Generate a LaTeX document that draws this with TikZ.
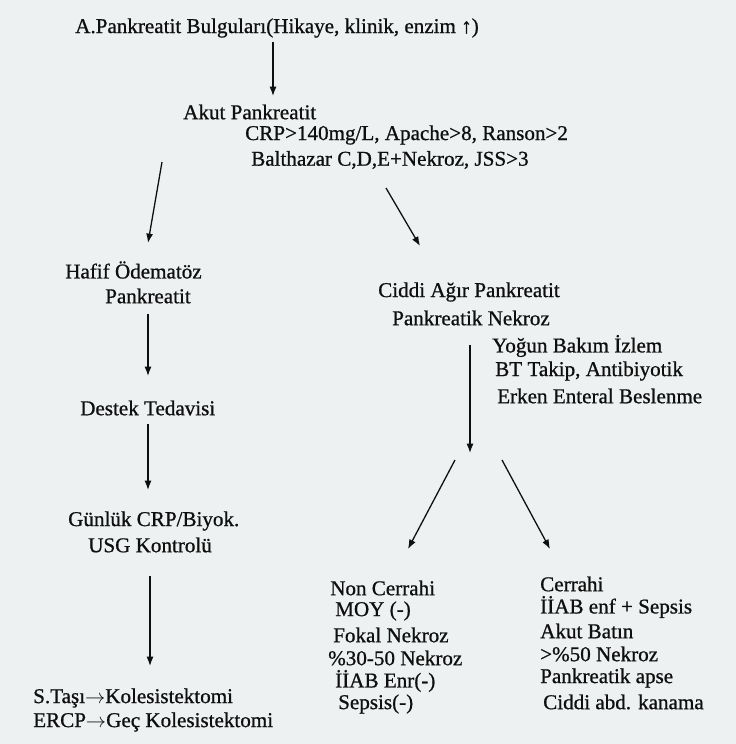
\documentclass[tikz,border=0pt]{standalone}
\usepackage{fontspec}
\setmainfont{Liberation Serif}[FakeBold=0.8]
\usetikzlibrary{arrows.meta}
\tikzset{>={Latex[length=8pt,width=6pt]}}
\definecolor{paper}{RGB}{237,241,241}
\definecolor{ink}{RGB}{15,15,15}
\tikzset{
  txt/.style={anchor=west, inner sep=0pt, text=ink, font=\fontsize{18}{21}\selectfont},
  arr/.style={->, draw=ink, line width=1.1pt}
}
\newcommand{\ok}{$\rightarrow$}

\begin{document}
\begin{tikzpicture}[x=0.03cm, y=-0.03cm]
    \fill[paper] (0,0) rectangle (736,744);
    \useasboundingbox (0,0) rectangle (736,744);

    \node[txt] (bulgu) at (75,28) {A.Pankreatit Bulguları(Hikaye, klinik, enzim ↑)};
    \node[txt] (akut) at (183,112) {Akut Pankreatit};
    \node[txt] (crp) at (245,135) {CRP>140mg/L, Apache>8, Ranson>2};
    \node[txt] (balt) at (251,160) {Balthazar C,D,E+Nekroz, JSS>3};

    % hafif kol
    \node[txt] (hafif) at (65,270) {Hafif Ödematöz};
    \node[txt] (hafifb) at (105,296) {Pankreatit};
    \node[txt] (destek) at (80,408) {Destek Tedavisi};
    \node[txt] (gunluk) at (68,521) {Günlük CRP/Biyok.};
    \node[txt] (usg) at (88,545) {USG Kontrolü};
    \node[txt] (tasi) at (33,698) {S.Taşı\ok Kolesistektomi};
    \node[txt] (ercp) at (33,722) {ERCP\ok Geç Kolesistektomi};

    % ciddi kol
    \node[txt] (ciddi) at (378,292) {Ciddi Ağır Pankreatit};
    \node[txt] (nekroz) at (392,318) {Pankreatik Nekroz};
    \node[txt] (yogun) at (492,346) {Yoğun Bakım İzlem};
    \node[txt] (bt) at (495,371) {BT Takip, Antibiyotik};
    \node[txt] (erken) at (497,396) {Erken Enteral Beslenme};

    \node[txt] (non) at (330,588) {Non Cerrahi};
    \node[txt] (moy) at (335,611) {MOY (-)};
    \node[txt] (fokal) at (333,635) {Fokal Nekroz};
    \node[txt] (yuzde) at (328,658) {\%30-50 Nekroz};
    \node[txt] (iiab) at (335,681) {İİAB Enr(-)};
    \node[txt] (sepsis) at (338,704) {Sepsis(-)};

    \node[txt] (cer) at (540,584) {Cerrahi};
    \node[txt] (enf) at (540,607) {İİAB enf + Sepsis};
    \node[txt] (batin) at (540,631) {Akut Batın};
    \node[txt] (elli) at (540,654) {>\%50 Nekroz};
    \node[txt] (apse) at (540,678) {Pankreatik apse};
    \node[txt] (kanama) at (543,702) {Ciddi abd. kanama};

    % ok uclari
    \coordinate (a1) at (273,42);  \coordinate (b1) at (273,96);
    \coordinate (a2) at (162,162); \coordinate (b2) at (148,243);
    \coordinate (a3) at (386,188); \coordinate (b3) at (420,246);
    \coordinate (a4) at (148,314); \coordinate (b4) at (148,376);
    \coordinate (a5) at (148,424); \coordinate (b5) at (148,490);
    \coordinate (a6) at (150,576); \coordinate (b6) at (150,666);
    \coordinate (a7) at (470,345); \coordinate (b7) at (470,453);
    \coordinate (a8) at (455,460); \coordinate (b8) at (408,549);
    \coordinate (a9) at (502,460); \coordinate (b9) at (550,549);

    \foreach \s/\t in {a1/b1,a2/b2,a3/b3,a4/b4,a5/b5,a6/b6,a7/b7,a8/b8,a9/b9}
        \draw[arr] (\s) -- (\t);
\end{tikzpicture}
\end{document}
